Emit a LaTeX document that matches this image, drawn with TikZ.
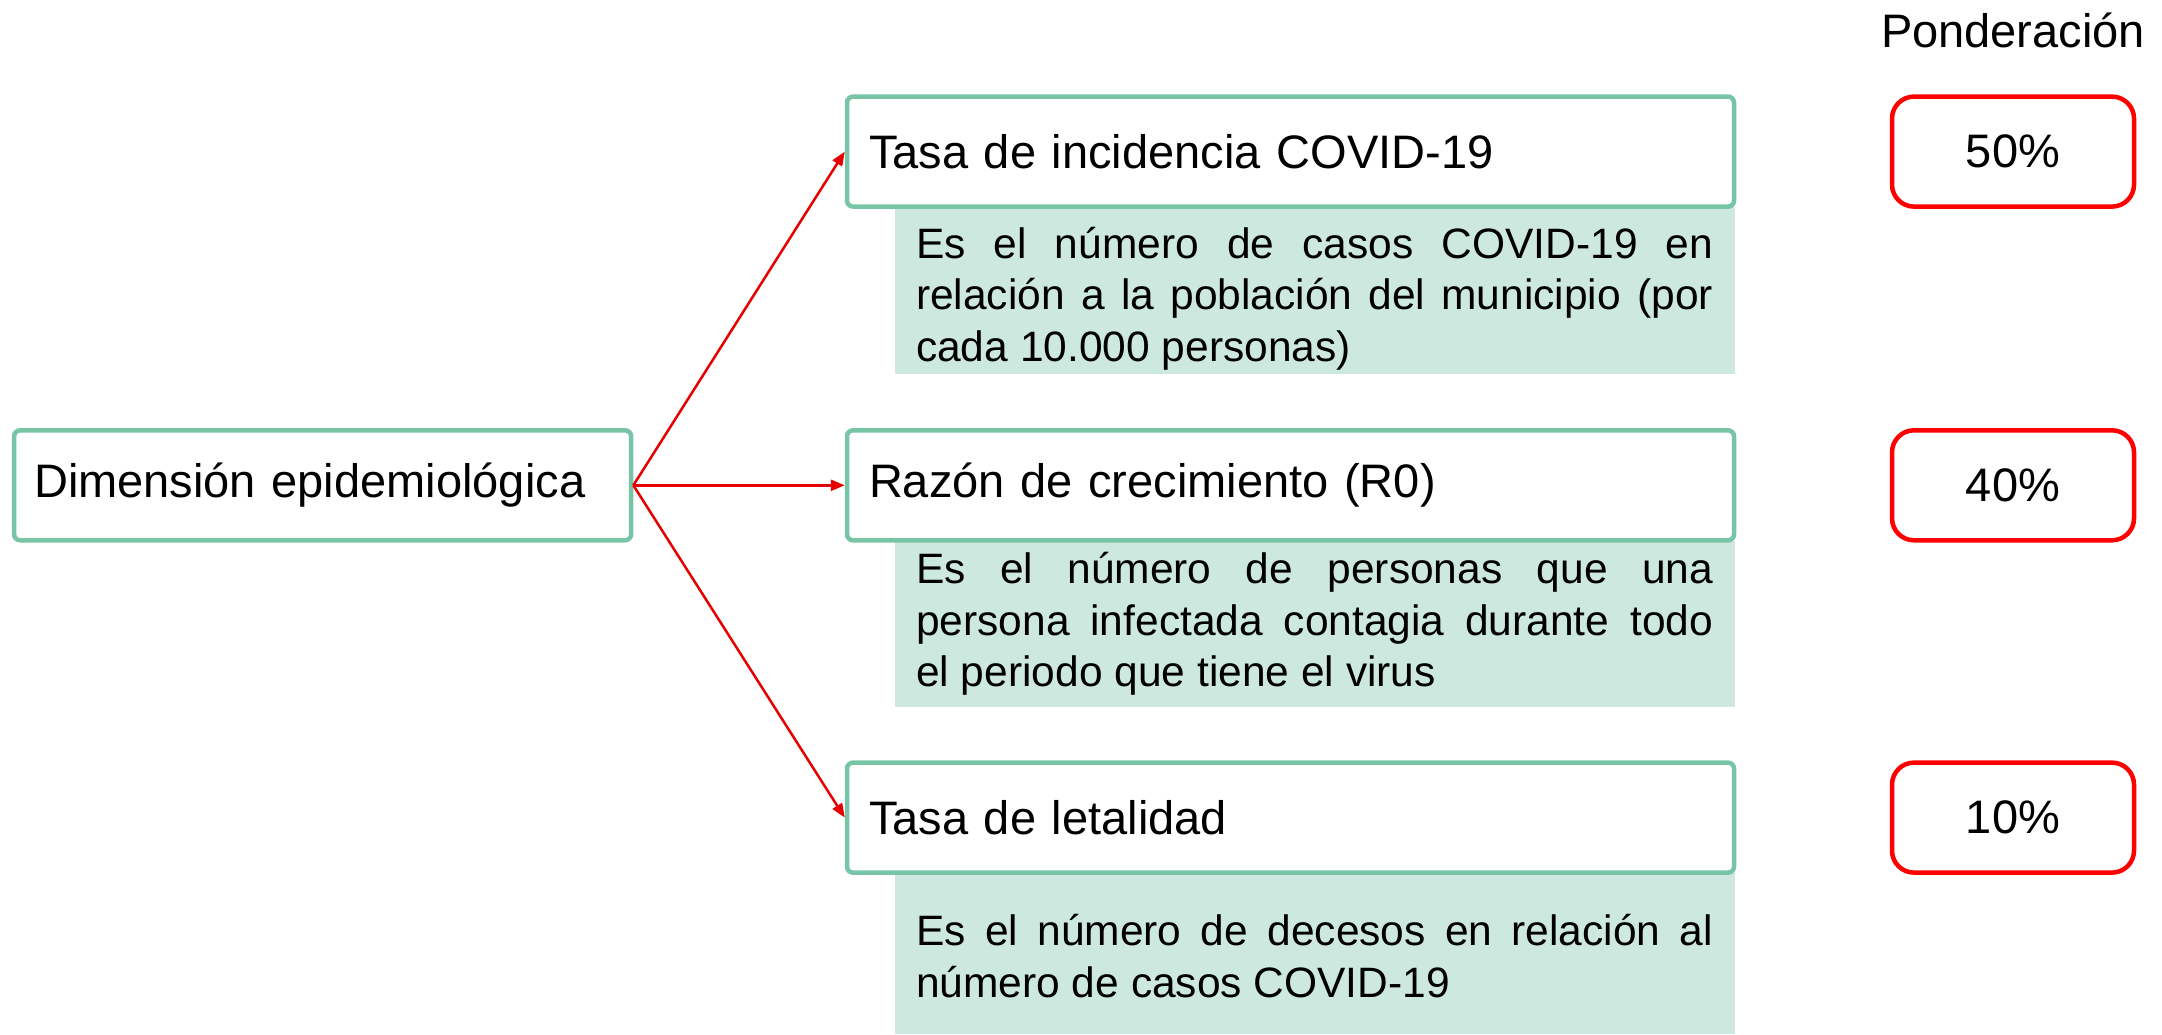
\documentclass[tikz,border=0pt]{standalone}
\usepackage{fontspec}
\setmainfont{Liberation Sans}
\usetikzlibrary{arrows.meta}
\definecolor{boxgreen}{HTML}{77C4A6}
\definecolor{descgreen}{HTML}{CDE8DE}
\definecolor{pred}{HTML}{FF0000}
\definecolor{arrred}{HTML}{E60000}
\begin{document}
\begin{tikzpicture}[x=1pt,y=-1pt,
  titlebox/.style={draw=boxgreen, line width=4.5pt, fill=white, rounded corners=6pt,
    minimum height=110pt, inner xsep=22pt, text width=843pt, align=left,
    font=\fontsize{47}{56}\selectfont},
  descbox/.style={fill=descgreen, inner xsep=21pt, inner ysep=0pt, text width=797pt,
    align=justify, font={\fontsize{42.5}{51.7}\selectfont\hyphenpenalty=10000\exhyphenpenalty=10000\tolerance=10000}},
  pctbox/.style={draw=pred, line width=4.5pt, fill=white, rounded corners=22pt,
    minimum width=242pt, minimum height=110pt, font=\fontsize{47}{56}\selectfont},
  conn/.style={draw=arrred, line width=2.5pt, -{Triangle[length=14pt,width=11pt]}}
]
\useasboundingbox (0,0) rectangle (2162,1034);

% descriptions (drawn first, under the title boxes)
\fill[descgreen] (894.8,206.8) rectangle (1734.5,373.7);
\node[descbox] (d1) at (1314.6,298.5)
  {Es el número de casos COVID-19 en relación a la población del municipio (por cada 10.000 personas)};
\fill[descgreen] (894.8,540.5) rectangle (1734.5,707.3);
\node[descbox] (d2) at (1314.6,623.9)
  {Es el número de personas que una persona infectada contagia durante todo\linebreak el periodo que tiene el virus};
\fill[descgreen] (894.8,872.8) rectangle (1734.5,1034);
\node[descbox] (d3) at (1314.6,956)
  {Es el número de decesos en relación al número de casos COVID-19};

% title boxes
\node[titlebox] (t1) at (1290.5,151.6) {Tasa de incidencia COVID-19};
\node[titlebox] (t2) at (1290.5,485.3) {Razón de crecimiento (R0)};
\node[titlebox] (t3) at (1290.5,817.6) {Tasa de letalidad};

% left box
\node[titlebox, text width=577pt, inner xsep=20pt] (dim) at (322.6,485.3) {Dimensión epidemiológica};

% weights
\node[font=\fontsize{47}{56}\selectfont] (pond) at (2013,30) {Ponderación};
\node[pctbox] (p1) at (2013,151.6) {50\%};
\node[pctbox] (p2) at (2013,485.3) {40\%};
\node[pctbox] (p3) at (2013,817.6) {10\%};

% connectors
\draw[conn] (dim.east) -- (t1.west);
\draw[conn] (dim.east) -- (t2.west);
\draw[conn] (dim.east) -- (t3.west);
\end{tikzpicture}
\end{document}
